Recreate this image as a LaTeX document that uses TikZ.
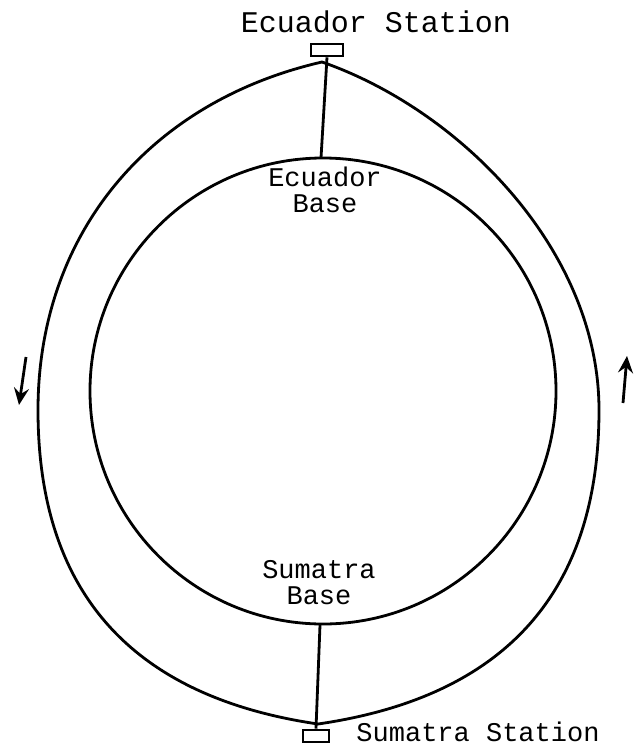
\documentclass[tikz,border=0pt]{standalone}
\usepackage{fontspec}
\setmonofont{Liberation Mono}
\usetikzlibrary{positioning, arrows.meta}

\begin{document}
\begin{tikzpicture}[x=1pt, y=-1pt, >={Stealth[length=17pt, width=15pt, inset=6pt]}, line width=2.8pt,
        station/.style={rectangle, draw, line width=2.6pt, minimum width=32pt, minimum height=12pt, inner sep=0pt},
        lbl/.style={font=\ttfamily\fontsize{27}{26}\selectfont, inner sep=0pt, align=center}]
        \useasboundingbox (0,0) rectangle (639,750);

        % Nodes
        \node[station] (ES) at (327,50) {};
        \node[station, minimum width=26pt] (SS) at (316,736) {};
        \coordinate (EB) at (321,158);
        \coordinate (SB) at (320,625);

        % Earth and orbit
        \draw (323,391) circle (233);
        \draw (322,62) .. controls (148,102) and (38,235) .. (38,410)
            .. controls (38,600) and (140,698) .. (318,724)
            .. controls (497,698) and (599,600) .. (599,410)
            .. controls (599,250) and (460,110) .. (322,62) -- cycle;

        % Edges
        \draw (ES.south) -- (EB);
        \draw (SB) -- (SS.north);

        % Direction of travel
        \coordinate (L1) at (26,357);
        \coordinate (L2) at (19,405);
        \coordinate (R1) at (623,403);
        \coordinate (R2) at (627,356);
        \draw[->] (L1) -- (L2);
        \draw[->] (R1) -- (R2);

        % Labels
        \node[lbl, font=\ttfamily\fontsize{30}{30}\selectfont, anchor=base] (ESl) at (376,32) {Ecuador Station};
        \node[lbl, anchor=north] (EBl) at (325,166) {Ecuador\\Base};
        \node[lbl, anchor=north] (SBl) at (319,559) {Sumatra\\Base};
        \node[lbl, anchor=base] (SSl) at (478,741) {Sumatra Station};
    \end{tikzpicture}
\end{document}
